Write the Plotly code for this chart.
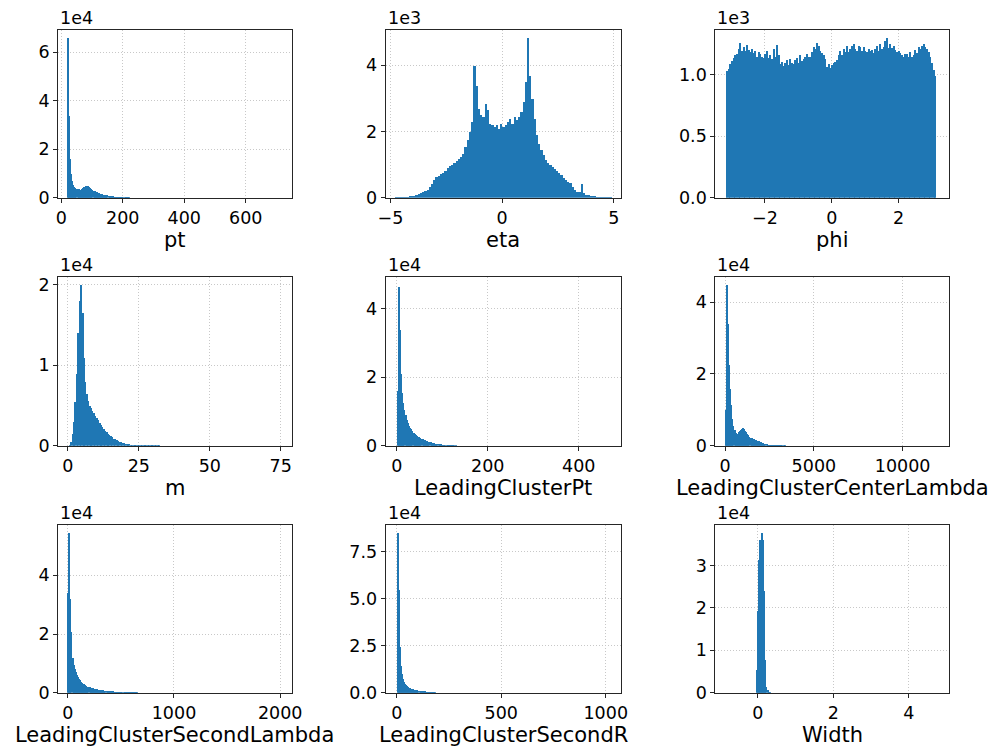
import plotly.graph_objects as go

# ---------------- data (bin start, bin width, counts per bin) ----------------
pt_start, pt_bw = 20.0, 3.475
pt_counts = [66000, 34000, 16000, 10000, 7000, 5500, 4600, 4200, 3900, 3800,
             3700, 3600, 3600, 3800, 4100, 4500, 4800, 5100, 5200, 4900,
             4500, 4200, 3900, 3500, 3200, 2900, 2650, 2450, 2250, 2050,
             1900, 1750, 1600, 1500, 1400, 1300, 1200, 1150, 1100, 1050,
             1000, 900, 800, 700, 620, 560, 500, 460, 420, 390,
             360, 330, 300, 280, 260, 240, 220, 200]

eta_start, eta_bw = -4.8, 0.1
eta_counts = [10, 20, 30, 40, 45, 50, 55, 60, 70, 90,
              120, 160, 200, 230, 260, 330, 420, 550, 640, 680,
              720, 760, 820, 900, 960, 1000, 1060, 1120, 1170, 1250,
              1350, 1550, 1750, 2000, 2300, 4000, 3400, 2700, 2500, 2450,
              2850, 2650, 2250, 2200, 2150, 2200, 2100, 2250, 2150, 2200,
              2300, 2400, 2250, 2450, 2350, 2450, 2600, 2900, 3500, 4840,
              3700, 3000, 2400, 1900, 1650, 1450, 1300, 1150, 1050, 1000,
              950, 880, 820, 760, 700, 620, 560, 500, 450, 330,
              240, 200, 180, 420, 160, 110, 90, 75, 65, 55,
              50, 45, 40, 35, 30, 20, 10]

phi_start, phi_bw = -3.14, 0.04984
phi_counts = [1030, 1050, 1090, 1115, 1140, 1165, 1175, 1210, 1260, 1200,
              1230, 1195, 1245, 1205, 1190, 1215, 1180, 1195, 1150, 1190,
              1175, 1145, 1140, 1175, 1195, 1140, 1160, 1135, 1210, 1150,
              1245, 1160, 1090, 1110, 1075, 1095, 1120, 1085, 1135, 1095,
              1090, 1120, 1140, 1100, 1160, 1115, 1130, 1150, 1175, 1145,
              1150, 1190, 1230, 1210, 1265, 1235, 1200, 1180, 1160, 1135,
              1070, 1090, 1060, 1080, 1095, 1110, 1125, 1160, 1200, 1165,
              1210, 1190, 1235, 1190, 1215, 1240, 1250, 1210, 1200, 1240,
              1230, 1195, 1225, 1200, 1185, 1215, 1195, 1205, 1180, 1210,
              1240, 1195, 1250, 1215, 1230, 1275, 1300, 1220, 1250, 1220,
              1235, 1205, 1190, 1200, 1180, 1165, 1150, 1175, 1175, 1145,
              1190, 1150, 1165, 1205, 1180, 1230, 1210, 1235, 1250, 1230,
              1210, 1185, 1150, 1100, 1040, 990]

m_start, m_bw = 0.0, 0.5
m_counts = [0, 100, 500, 1500, 3000, 5500, 9000, 14000, 18000, 20000,
            16500, 11000, 8000, 6500, 5600, 5000, 4700, 4400, 4100, 3800,
            3500, 3200, 2900, 2650, 2400, 2200, 1950, 1750, 1550, 1400,
            1250, 1100, 950, 850, 750, 650, 560, 490, 430, 380,
            330, 290, 260, 230, 210, 190, 170, 150, 135, 120,
            110, 100, 95, 90, 85, 80, 75, 70, 65, 60,
            55, 50, 45, 40, 35, 30, 25]

lcpt_start, lcpt_bw = 0.0, 2.5
lcpt_counts = [16000, 46600, 33800, 21000, 15500, 12500, 10500, 9000, 7800, 6800,
               6000, 5400, 4900, 4400, 4000, 3600, 3300, 3000, 2800, 2600,
               2400, 2200, 2000, 1850, 1700, 1550, 1450, 1300, 1200, 1100,
               1000, 950, 880, 800, 740, 680, 620, 570, 530, 490,
               450, 420, 390, 360, 340, 320, 300, 280, 260, 240,
               220, 200]

lccl_start, lccl_bw = 40.0, 60.0
lccl_counts = [10000, 45000, 34000, 22500, 16000, 11500, 7500, 5500, 4500, 3800,
               3000, 3400, 4000, 4200, 4400, 4700, 5000, 4700, 4300, 3900,
               3500, 3100, 2700, 2400, 2200, 2050, 1950, 1850, 1700, 1600,
               1500, 1400, 1250, 1150, 1000, 850, 720, 600, 500, 430,
               380, 340, 300, 280, 260, 240, 220, 200, 190, 180,
               170, 160, 150, 140, 130, 120]

lcsl_start, lcsl_bw = 0.0, 10.0
lcsl_counts = [34000, 54500, 32000, 21000, 12000, 9700, 8300, 7200, 6300, 5600,
               5000, 4500, 4000, 3600, 3300, 3000, 2750, 2500, 2300, 2150,
               2000, 1850, 1750, 1650, 1550, 1450, 1380, 1300, 1230, 1170,
               1110, 1050, 1000, 950, 900, 860, 820, 780, 740, 700,
               670, 640, 610, 580, 550, 530, 510, 490, 470, 450,
               430, 410, 390, 370, 350, 330, 310, 290, 270, 250,
               230, 210, 190, 170, 150, 130]

lcsr_start, lcsr_bw = 0.0, 5.0
lcsr_counts = [85500, 55000, 24500, 14500, 10000, 7500, 6000, 5000, 4300, 3800,
               3300, 3000, 2700, 2450, 2250, 2050, 1900, 1750, 1620, 1500,
               1400, 1300, 1220, 1150, 1080, 1020, 970, 930, 900, 870,
               840, 810, 780, 750, 720, 690, 660]

width_start, width_bw = -0.028, 0.028
width_counts = [5400, 19500, 31500, 36000, 36200, 37700, 36200, 24000, 7900, 1500,
                700, 300, 150, 60]

names = ["pt", "eta", "phi", "m", "LeadingClusterPt", "LeadingClusterCenterLambda",
         "LeadingClusterSecondLambda", "LeadingClusterSecondR", "Width"]
exponents = ["1e4", "1e3", "1e3", "1e4", "1e4", "1e4", "1e4", "1e4", "1e4"]

# axis ranges (x) and y ranges
x_ranges = [(-10.5, 748.6), (-5.215, 5.33), (-3.483, 3.50), (-3.46, 78.8),
            (-24.4, 493.2), (-552, 12597), (-92.4, 2107), (-53, 1073.6), (-1.125, 5.056)]
y_maxes = [69300, 5076, 1367, 21000, 49400, 47100, 57300, 89600, 39650]

x_tickvals = [[0, 200, 400, 600], [-5, 0, 5], [-2, 0, 2], [0, 25, 50, 75],
              [0, 200, 400], [0, 5000, 10000], [0, 1000, 2000], [0, 500, 1000], [0, 2, 4]]
x_ticktext = [["0", "200", "400", "600"], ["\u22125", "0", "5"], ["\u22122", "0", "2"],
              ["0", "25", "50", "75"], ["0", "200", "400"], ["0", "5000", "10000"],
              ["0", "1000", "2000"], ["0", "500", "1000"], ["0", "2", "4"]]
y_tickvals = [[0, 20000, 40000, 60000], [0, 2000, 4000], [0, 500, 1000], [0, 10000, 20000],
              [0, 20000, 40000], [0, 20000, 40000], [0, 20000, 40000],
              [0, 25000, 50000, 75000], [0, 10000, 20000, 30000]]
y_ticktext = [["0", "2", "4", "6"], ["0", "2", "4"], ["0.0", "0.5", "1.0"], ["0", "1", "2"],
              ["0", "2", "4"], ["0", "2", "4"], ["0", "2", "4"],
              ["0.0", "2.5", "5.0", "7.5"], ["0", "1", "2", "3"]]

series = [(pt_start, pt_bw, pt_counts), (eta_start, eta_bw, eta_counts),
          (phi_start, phi_bw, phi_counts), (m_start, m_bw, m_counts),
          (lcpt_start, lcpt_bw, lcpt_counts), (lccl_start, lccl_bw, lccl_counts),
          (lcsl_start, lcsl_bw, lcsl_counts), (lcsr_start, lcsr_bw, lcsr_counts),
          (width_start, width_bw, width_counts)]

# ---------------- layout geometry ----------------
W, H = 1000, 753
col_px = [(51, 289), (385, 625), (721, 959)]
row_px = [(28, 199), (279, 451), (531, 702)]

FONT = "DejaVu Sans"
BLUE = "#1f77b4"

fig = go.Figure()
layout = dict(width=W, height=H, autosize=False, margin=dict(l=0, r=0, t=0, b=0),
              paper_bgcolor="white", plot_bgcolor="white", showlegend=False,
              font=dict(family=FONT, color="black"), bargap=0)
annotations = []

for i, (start, bw, counts) in enumerate(series):
    r, c = divmod(i, 3)
    n = "" if i == 0 else str(i + 1)
    centers = [start + bw * (k + 0.5) for k in range(len(counts))]
    fig.add_trace(go.Bar(x=centers, y=counts, width=[bw] * len(counts),
                         marker=dict(color=BLUE, line=dict(width=0)),
                         xaxis="x" + n, yaxis="y" + n, hoverinfo="skip"))
    x0, x1 = col_px[c]
    y0, y1 = row_px[r]
    common = dict(showline=True, mirror=True, linecolor="#262626", linewidth=1,
                  ticks="outside", ticklen=4, tickwidth=1, tickcolor="#262626",
                  showgrid=True, gridcolor="#c8c8c8", griddash="1px,2px", gridwidth=1,
                  zeroline=False, tickfont=dict(family=FONT, size=17.5, color="black"),
                  fixedrange=True)
    layout["xaxis" + n] = dict(domain=[x0 / W, x1 / W], anchor="y" + n,
                               range=list(x_ranges[i]), tickmode="array",
                               tickvals=x_tickvals[i], ticktext=x_ticktext[i], **common)
    layout["yaxis" + n] = dict(domain=[1 - y1 / H, 1 - y0 / H], anchor="x" + n,
                               range=[0, y_maxes[i]], tickmode="array",
                               tickvals=y_tickvals[i], ticktext=y_ticktext[i], **common)
    # offset text (1e4 / 1e3)
    annotations.append(dict(text=exponents[i], xref="paper", yref="paper",
                            x=x0 / W, y=1 - y0 / H, xanchor="left", yanchor="bottom",
                            showarrow=False, font=dict(family=FONT, size=17.5, color="black")))
    # axis label
    annotations.append(dict(text=names[i], xref="paper", yref="paper",
                            x=(x0 + x1) / 2 / W, y=1 - (y1 + 29) / H,
                            xanchor="center", yanchor="top", showarrow=False,
                            font=dict(family=FONT, size=21, color="black")))

layout["annotations"] = annotations
fig.update_layout(**layout)
fig.write_html("out.html")
